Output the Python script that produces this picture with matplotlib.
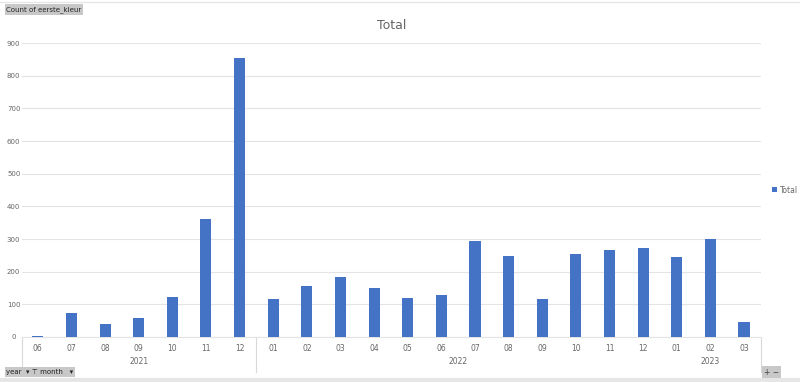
import numpy as np
import matplotlib.pyplot as plt

months = ['06', '07', '08', '09', '10', '11', '12',
          '01', '02', '03', '04', '05', '06', '07', '08', '09', '10', '11', '12',
          '01', '02', '03']
years = ['2021', '2022', '2023']
year_counts = [7, 12, 3]
counts = [3, 73, 40, 58, 122, 361, 854,
          116, 156, 184, 150, 119, 129, 294, 248, 116, 254, 266, 272,
          245, 300, 46]

grey = '#666666'
fig = plt.figure(figsize=(8, 3.82), dpi=100)
ax = fig.add_axes([0.0275, 0.118, 0.9235, 0.769])

x = np.arange(len(months))
ax.bar(x, counts, width=0.33, color='#4472c4', zorder=3, label='Total')
ax.set_xlim(-0.47, len(months) - 0.5)
ax.set_ylim(0, 900)
ax.set_yticks(np.arange(0, 901, 100))
ax.yaxis.grid(True, color='#e4e4e4', linewidth=0.8, zorder=0)
ax.tick_params(axis='y', length=0, labelsize=5, labelcolor=grey, pad=6)
for lbl in ax.get_yticklabels():
    lbl.set_horizontalalignment('center')
for s in ['top', 'right', 'left']:
    ax.spines[s].set_visible(False)
ax.spines['bottom'].set_color('#e4e4e4')
ax.set_xticks(x)
ax.set_xticklabels(months)
ax.tick_params(axis='x', length=0, labelsize=5.5, labelcolor=grey, pad=5)

# year level of the axis
start = 0
trans = ax.get_xaxis_transform()
for yr, n in zip(years, year_counts):
    ax.text(start + (n - 1) / 2, -0.085, yr, transform=trans, ha='center', va='center',
            fontsize=5.5, color=grey)
    start += n
for sx in [-0.47, 6.5, len(months) - 0.5]:
    ax.plot([sx, sx], [0, -0.12], transform=trans, color='#d9d9d9', lw=0.8, clip_on=False)

ax.set_title('Total', fontsize=9, color=grey, pad=10)
ax.legend(loc='center left', bbox_to_anchor=(1.006, 0.5), frameon=False,
          fontsize=5.5, labelcolor=grey, handlelength=0.6, handleheight=0.6,
          handletextpad=0.4)

# pivot chart buttons
box = dict(boxstyle='square,pad=0.25', fc='#c8c8c8', ec='none')
fig.text(0.008, 0.975, 'Count of eerste_kleur', fontsize=5, color='#222222',
         va='center', bbox=box)
fig.text(0.008, 0.026, 'year  ▾ ⊤ month   ▾', fontsize=5, color='#222222',
         va='center', bbox=box)
fig.text(0.955, 0.026, '+ −', fontsize=5.5, color='#444444', va='center', bbox=box)
fig.add_artist(plt.Line2D([0, 1], [0.006, 0.006], color='#e6e6e6', lw=3))
fig.add_artist(plt.Line2D([0, 1], [0.996, 0.996], color='#e6e6e6', lw=1))

fig.savefig('out.png', dpi=100)
